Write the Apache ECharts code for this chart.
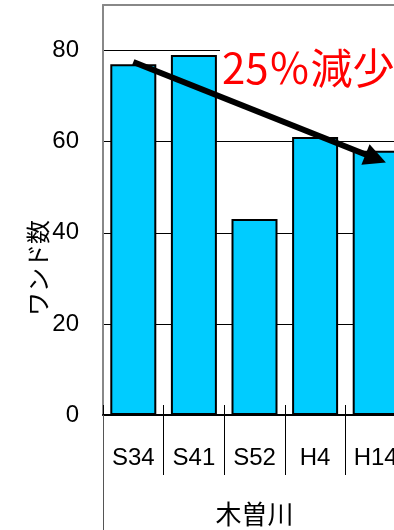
<!DOCTYPE html>
<html>
<head>
<meta charset="utf-8">
<script src="https://cdn.jsdelivr.net/npm/echarts@6/dist/echarts.min.js"></script>
<style>
  html, body { margin: 0; padding: 0; background: #fff; }
  #chart { width: 394px; height: 530px; }
</style>
</head>
<body>
<div id="chart"></div>
<script>
// Survey years along the Kiso river and the wand (backwater pool) counts
const categories = ['S34', 'S41', 'S52', 'H4', 'H14'];
const wandCounts = [77, 79, 43, 61, 58];
const groups = ['木曽川'];
const yAxisTitle = 'ワンド数';

// Trend arrow endpoints (category, value) and its caption
const trendFrom = ['S34', 77.5];
const trendTo = ['H14', 56.3];
const trendLabel = '25％減少';

const latin = '"Liberation Sans", "Noto Sans CJK JP", sans-serif';
const cjk = '"Noto Sans CJK JP", sans-serif';

const chart = echarts.init(document.getElementById('chart'), null, { renderer: 'canvas' });

chart.setOption({
  backgroundColor: '#ffffff',
  animation: false,
  // the plot runs past the right edge of the canvas
  grid: { left: 103, top: 5, right: -12, bottom: 115, containLabel: false, outerBoundsMode: 'none' },
  xAxis: [
    {
      // main category axis: labels and long outward separators
      type: 'category',
      data: categories,
      position: 'bottom',
      axisLine: { show: true, lineStyle: { color: '#000', width: 2 } },
      axisTick: { show: true, length: 60, lineStyle: { color: '#000', width: 1 } },
      axisLabel: { fontSize: 24, color: '#000', fontFamily: latin, margin: 31 },
      splitLine: { show: false }
    },
    {
      // short inward ticks between the bars
      type: 'category',
      data: categories,
      position: 'bottom',
      axisLine: { show: false },
      axisTick: { show: true, inside: true, length: 10, lineStyle: { color: '#000', width: 1 } },
      axisLabel: { show: false },
      splitLine: { show: false }
    },
    {
      // river group label
      type: 'category',
      data: groups,
      position: 'bottom',
      axisLine: { show: false },
      axisTick: { show: true, length: 120, lineStyle: { color: '#555', width: 1 } },
      axisLabel: { fontSize: 26, color: '#000', fontFamily: cjk, margin: 86 },
      splitLine: { show: false }
    },
    {
      // top frame line
      type: 'category',
      data: categories,
      position: 'top',
      axisLine: { show: true, lineStyle: { color: '#888', width: 2 } },
      axisTick: { show: false },
      axisLabel: { show: false },
      splitLine: { show: false },
      z: 5
    }
  ],
  yAxis: {
    type: 'value',
    min: 0,
    max: 90,
    interval: 20,
    axisLine: { show: true, lineStyle: { color: '#888', width: 2 } },
    axisTick: { show: false },
    axisLabel: { fontSize: 24, color: '#000', fontFamily: latin, margin: 24, showMaxLabel: false },
    splitLine: { show: true, lineStyle: { color: '#000', width: 1 } }
  },
  series: [
    {
      type: 'bar',
      data: wandCounts,
      xAxisIndex: 0,
      barWidth: 46,
      itemStyle: { color: '#00ccff', borderColor: '#000', borderWidth: 2 },
      markLine: {
        silent: true,
        symbol: ['none', 'triangle'],
        symbolSize: [22, 22],
        label: { show: false },
        lineStyle: { color: '#000', width: 6, type: 'solid' },
        itemStyle: { color: '#000' },
        data: [[{ coord: trendFrom }, { coord: trendTo }]]
      }
    }
  ],
  graphic: [
    {
      type: 'text',
      x: 38,
      y: 268,
      rotation: Math.PI / 2,
      style: {
        text: yAxisTitle,
        font: '24px ' + cjk,
        fill: '#000',
        align: 'center',
        verticalAlign: 'middle'
      }
    },
    {
      type: 'text',
      x: 220,
      y: 68,
      z: 10,
      style: {
        text: trendLabel,
        font: '42px ' + cjk,
        fill: '#ff0000',
        align: 'left',
        verticalAlign: 'middle',
        backgroundColor: '#fff',
        padding: [2, 4, 2, 2]
      }
    }
  ]
});
</script>
</body>
</html>
